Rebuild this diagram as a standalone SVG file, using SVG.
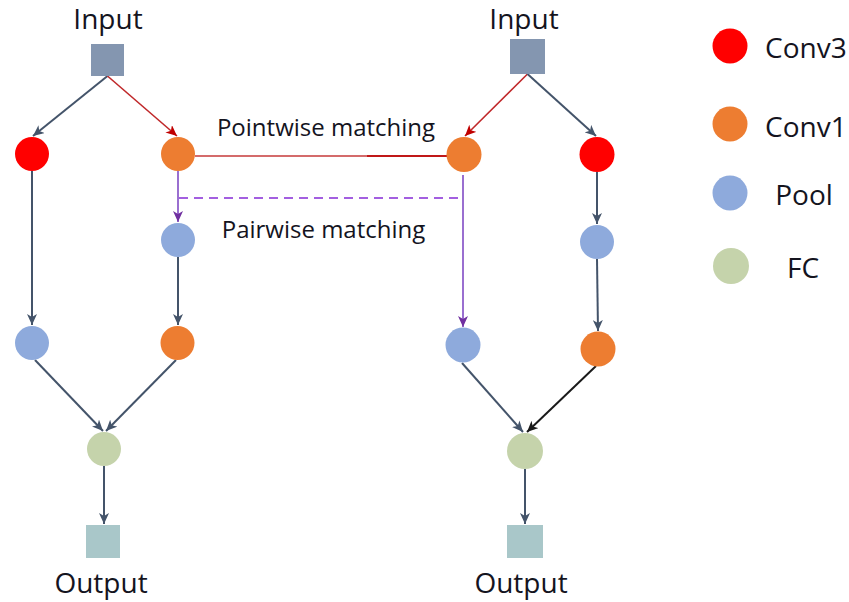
<svg xmlns="http://www.w3.org/2000/svg" width="849" height="602" viewBox="0 0 849 602">
<style>
text{font-family:"Open Sans","Liberation Sans",sans-serif;fill:#14141e}
.lbl{font-size:28px}
.mlbl{font-size:24px}
.c{stroke:#44546a;stroke-width:2;fill:none;marker-end:url(#aDark)}
.cb{stroke:#1a1a1a;stroke-width:2;fill:none;marker-end:url(#aBlack)}
.cr{stroke:#c0282a;stroke-width:1.6;fill:none;marker-end:url(#aRed)}
.cp{stroke:#9a6fd0;stroke-width:2;fill:none;marker-end:url(#aPurple)}
.conv3{fill:#ff0000}.conv1{fill:#ed7d31}.pool{fill:#8eaadc}.fc{fill:#c5d3ab}
.inp{fill:#8496b0}.out{fill:#a9c7c9}
</style>
<defs>
<marker id="aDark" markerUnits="userSpaceOnUse" markerWidth="12" markerHeight="10" refX="11" refY="5" orient="auto"><path d="M0,0 L11,5 L0,10 L3,5 z" fill="#44546a"/></marker>
<marker id="aBlack" markerUnits="userSpaceOnUse" markerWidth="12" markerHeight="10" refX="11" refY="5" orient="auto"><path d="M0,0 L11,5 L0,10 L3,5 z" fill="#1a1a1a"/></marker>
<marker id="aRed" markerUnits="userSpaceOnUse" markerWidth="12" markerHeight="10" refX="11" refY="5" orient="auto"><path d="M0,0 L11,5 L0,10 L3,5 z" fill="#c00000"/></marker>
<marker id="aPurple" markerUnits="userSpaceOnUse" markerWidth="12" markerHeight="10" refX="11" refY="5" orient="auto"><path d="M0,0 L11,5 L0,10 L3,5 z" fill="#7030a0"/></marker>
</defs>

<g id="connectors">
  <line class="c" x1="107.5" y1="76" x2="33" y2="136"/>
  <line class="cr" x1="107.5" y1="76" x2="177" y2="136"/>
  <line class="c" x1="32" y1="171" x2="32" y2="325"/>
  <line class="cp" x1="178" y1="171" x2="178" y2="222"/>
  <line class="c" x1="178" y1="257" x2="178" y2="325"/>
  <line class="c" x1="35" y1="360" x2="103" y2="431"/>
  <line class="c" x1="176" y1="360" x2="106" y2="431"/>
  <line class="c" x1="104" y1="466" x2="104" y2="524"/>
  <line class="cr" x1="527.5" y1="74" x2="465" y2="136"/>
  <line class="c" x1="527.5" y1="74" x2="596" y2="136"/>
  <line class="c" x1="597" y1="172" x2="597" y2="224"/>
  <line class="c" x1="597" y1="259" x2="598" y2="331"/>
  <line class="cp" x1="463" y1="175" x2="463" y2="327"/>
  <line class="c" x1="462" y1="363" x2="523" y2="432"/>
  <line class="cb" x1="596" y1="366" x2="527" y2="432"/>
  <line class="c" x1="525" y1="469" x2="525" y2="524"/>
  <line x1="195" y1="156" x2="367" y2="156" stroke="#d46b6b" stroke-width="2.2"/>
  <line x1="367" y1="156" x2="447" y2="156" stroke="#c01818" stroke-width="2"/>
  <line x1="179" y1="198" x2="463" y2="198" stroke="#a35fe0" stroke-width="2" stroke-dasharray="9,6"/>
</g>

<g id="left-input"><text class="lbl" x="108" y="29" text-anchor="middle">Input</text><rect class="inp" x="91" y="44" width="33" height="32"/></g>
<g id="left-conv3"><circle class="conv3" cx="32" cy="154" r="17"/></g>
<g id="left-conv1"><circle class="conv1" cx="178" cy="154" r="17"/></g>
<g id="left-pool-a"><circle class="pool" cx="178" cy="240" r="17"/></g>
<g id="left-pool-b"><circle class="pool" cx="32" cy="343" r="17"/></g>
<g id="left-conv1-b"><circle class="conv1" cx="177.5" cy="343" r="17"/></g>
<g id="left-fc"><circle class="fc" cx="104" cy="449" r="17"/></g>
<g id="left-output"><rect class="out" x="86" y="525" width="34" height="33"/><text class="lbl" x="101" y="593" text-anchor="middle">Output</text></g>

<g id="right-input"><text class="lbl" x="524" y="29" text-anchor="middle">Input</text><rect class="inp" x="510" y="39" width="35" height="35"/></g>
<g id="right-conv1"><circle class="conv1" cx="464" cy="154.5" r="17.5"/></g>
<g id="right-conv3"><circle class="conv3" cx="597" cy="154.5" r="17.5"/></g>
<g id="right-pool-a"><circle class="pool" cx="597" cy="242" r="17"/></g>
<g id="right-pool-b"><circle class="pool" cx="463" cy="345" r="17.5"/></g>
<g id="right-conv1-b"><circle class="conv1" cx="598" cy="349" r="17.5"/></g>
<g id="right-fc"><circle class="fc" cx="525" cy="451" r="18"/></g>
<g id="right-output"><rect class="out" x="507" y="525" width="36" height="33"/><text class="lbl" x="521" y="593" text-anchor="middle">Output</text></g>

<g id="labels">
  <text class="mlbl" x="326" y="136" text-anchor="middle">Pointwise matching</text>
  <text class="mlbl" x="323.5" y="238" text-anchor="middle">Pairwise matching</text>
</g>

<g id="legend">
  <g id="legend-conv3"><circle class="conv3" cx="730" cy="46" r="17.5"/><text class="lbl" x="765" y="58">Conv3</text></g>
  <g id="legend-conv1"><circle class="conv1" cx="730" cy="124" r="17.5"/><text class="lbl" x="765" y="137">Conv1</text></g>
  <g id="legend-pool"><circle class="pool" cx="730" cy="193" r="17.5"/><text class="lbl" x="804" y="205" text-anchor="middle">Pool</text></g>
  <g id="legend-fc"><circle class="fc" cx="731" cy="266" r="18"/><text class="lbl" x="803" y="278" text-anchor="middle">FC</text></g>
</g>
</svg>
